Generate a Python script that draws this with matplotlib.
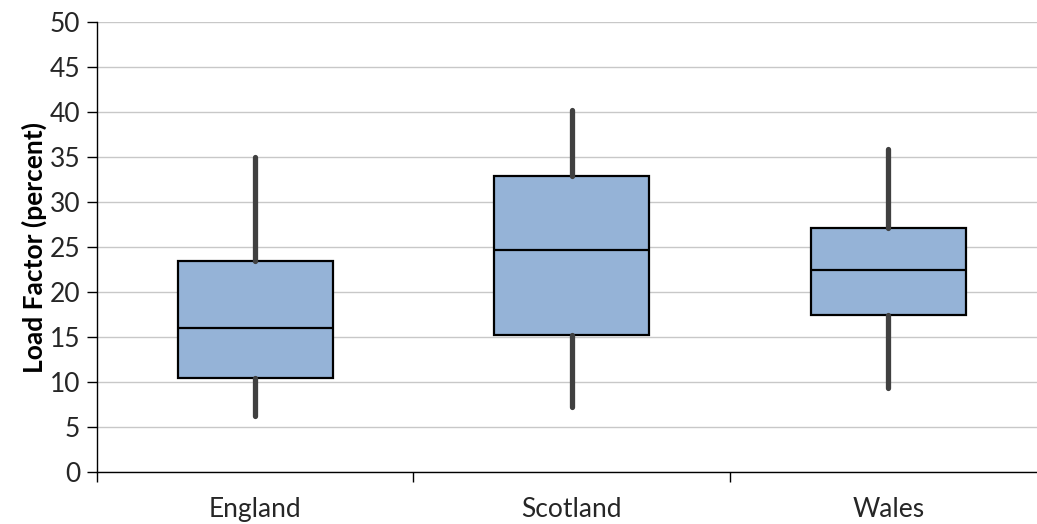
import matplotlib.pyplot as plt

# Data
regions = ["England", "Scotland", "Wales"]
whisker_low = [6.2, 7.2, 9.3]
q1 = [10.4, 15.2, 17.5]
median = [16.0, 24.7, 22.5]
q3 = [23.5, 32.9, 27.1]
whisker_high = [35.0, 40.2, 35.9]

stats = []
for i, name in enumerate(regions):
    stats.append({"label": name, "whislo": whisker_low[i], "q1": q1[i],
                  "med": median[i], "q3": q3[i], "whishi": whisker_high[i]})

plt.rcParams["font.family"] = ["Lato", "DejaVu Sans"]

fig = plt.figure(figsize=(10.37, 5.24), dpi=100)
ax = fig.add_axes([0.0935, 0.099, 0.9065, 0.859])

ax.bxp(stats, positions=[1, 2, 3], widths=0.49, patch_artist=True,
       showcaps=False, showfliers=False,
       boxprops=dict(facecolor="#95B3D7", edgecolor="black", linewidth=1.6),
       medianprops=dict(color="black", linewidth=1.6),
       whiskerprops=dict(color="#404040", linewidth=3.8,
                         solid_capstyle="round"),
       zorder=3)

ax.set_xlim(0.5, 3.47)
ax.set_ylim(0, 50)
ax.set_yticks(range(0, 51, 5))
ax.yaxis.grid(True, color="#C8C8C8", linewidth=1)
ax.set_axisbelow(True)

ax.set_xticks([1, 2, 3])
ax.set_xticklabels(regions)
ax.set_xticks([0.5, 1.5, 2.5], minor=True)
ax.tick_params(axis="x", which="major", length=0, pad=18, labelsize=19,
               labelcolor="#262626")
ax.tick_params(axis="x", which="minor", length=7, width=1, direction="out")
ax.tick_params(axis="y", length=7, width=1, labelsize=19, labelcolor="#262626",
               pad=5)

ax.set_ylabel("Load Factor (percent)", fontsize=19, fontweight="bold",
              labelpad=2)

for side in ["top", "right"]:
    ax.spines[side].set_visible(False)
ax.spines["left"].set_linewidth(1)
ax.spines["bottom"].set_linewidth(1)

fig.savefig("out.png", dpi=100)
